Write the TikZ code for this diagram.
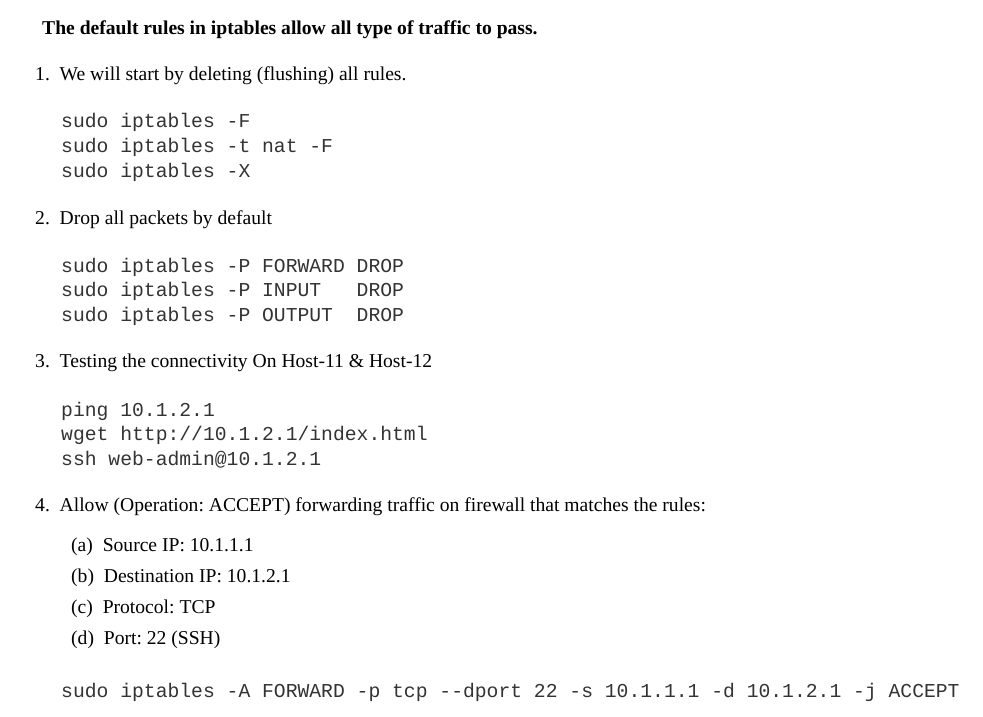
\documentclass[tikz,border=0pt]{standalone}
\usepackage{fontspec}
\setmainfont{Liberation Serif}
\setmonofont{Liberation Mono}
\frenchspacing
\begin{document}
\begin{tikzpicture}[x=1pt,y=-1pt,
    txt/.style={anchor=base west,inner sep=0pt,font=\fontsize{19.6}{24}\selectfont},
    code/.style={anchor=base west,inner sep=0pt,text=black!80,font=\fontsize{19.7}{24}\selectfont\ttfamily}]

\def\CODEX{61}
\def\ITEMX{35}
	\useasboundingbox (0,0) rectangle (983,717);
	\node[txt,font=\fontsize{19.6}{24}\selectfont\bfseries] (title) at (42,35) {The default rules in iptables allow all type of traffic to pass.};
	\node[txt] (one) at (\ITEMX,81) {1.\enspace We will start by deleting (flushing) all rules.};
	\node[code] (flusha) at (\CODEX,128) {sudo iptables -F};
	\node[code] (flushb) at (\CODEX,152) {sudo iptables -t nat -F};
	\node[code] (flushc) at (\CODEX,177) {sudo iptables -X};
	\node[txt] (two) at (\ITEMX,224) {2.\enspace Drop all packets by default};
	\node[code] (dropa) at (\CODEX,272) {sudo iptables -P FORWARD DROP};
	\node[code] (dropb) at (\CODEX,296) {sudo iptables -P INPUT\ \ \ DROP};
	\node[code] (dropc) at (\CODEX,321) {sudo iptables -P OUTPUT\ \ DROP};
	\node[txt] (three) at (\ITEMX,367) {3.\enspace Testing the connectivity On Host-11 \& Host-12};
	\node[code] (testa) at (\CODEX,416) {ping 10.1.2.1};
	\node[code] (testb) at (\CODEX,440) {wget http://10.1.2.1/index.html};
	\node[code] (testc) at (\CODEX,465) {ssh web-admin@10.1.2.1};
	\node[txt] (four) at (\ITEMX,511) {4.\enspace Allow (Operation: ACCEPT) forwarding traffic on firewall that matches the rules:};
	\node[txt] (ruleA) at (71,551) {(a)\enspace Source IP: 10.1.1.1};
	\node[txt] (ruleB) at (71,582) {(b)\enspace Destination IP: 10.1.2.1};
	\node[txt] (ruleC) at (71,613) {(c)\enspace Protocol: TCP};
	\node[txt] (ruleD) at (71,644) {(d)\enspace Port: 22 (SSH)};
	\node[code] (accept) at (\CODEX,697) {sudo iptables -A FORWARD -p tcp -{}-dport 22 -s 10.1.1.1 -d 10.1.2.1 -j ACCEPT};

\end{tikzpicture}
\end{document}
